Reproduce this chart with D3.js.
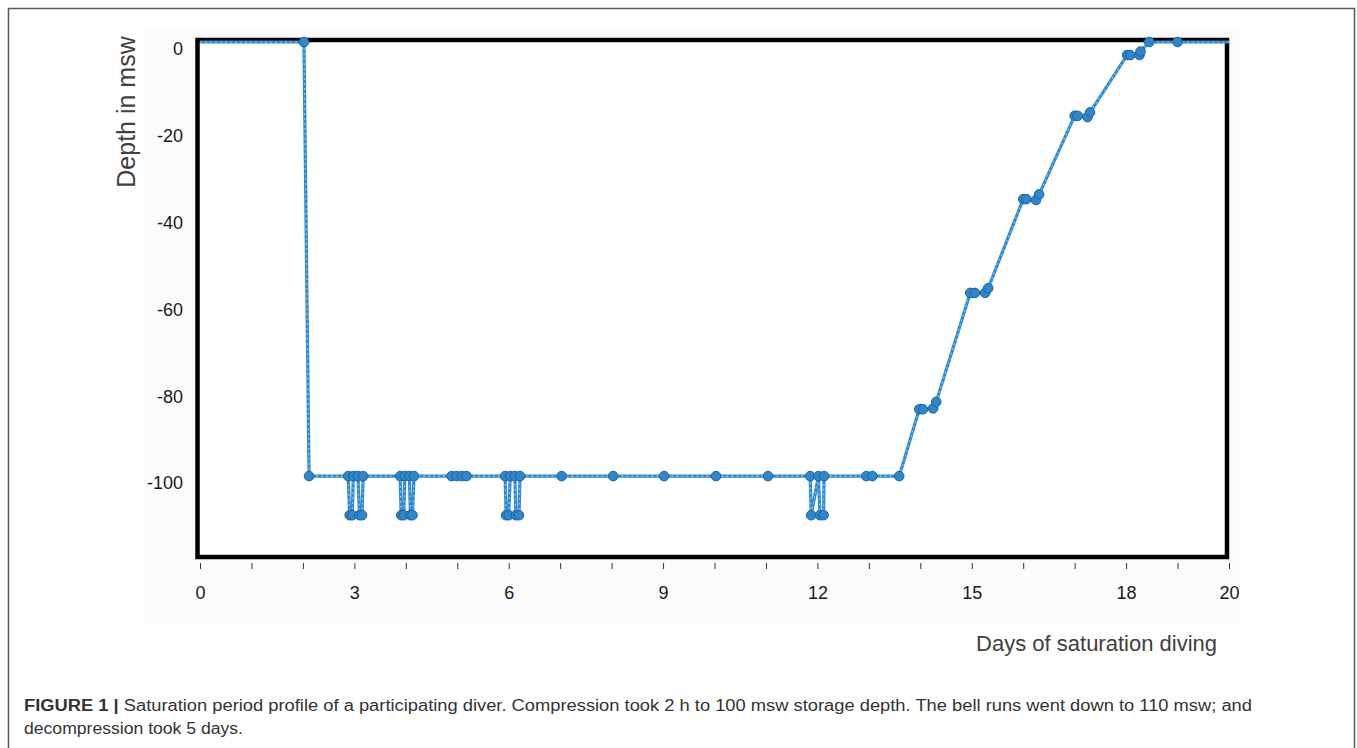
<!DOCTYPE html>
<html>
<head>
<meta charset="utf-8">
<script src="https://cdn.jsdelivr.net/npm/d3@7"></script>
<style>
  html, body { margin: 0; padding: 0; background: #ffffff; }
  svg { display: block; }
</style>
</head>
<body>
<svg id="chart" width="1357" height="748"></svg>
<script>
// ---- data ----
const days = [
  0, 2.02, 2.12,
  2.88, 2.91, 2.96, 2.98, 3.07, 3.10, 3.15, 3.17,
  3.89, 3.91, 3.96, 3.98, 4.07, 4.09, 4.13, 4.16,
  4.89, 4.99, 5.09, 5.18,
  5.93, 5.95, 6.00, 6.03, 6.12, 6.14, 6.20, 6.22,
  7.03, 8.03, 9.02, 10.03, 11.04,
  11.86, 11.88, 12.02, 12.05, 12.12, 12.13,
  12.95, 13.07, 13.59,
  13.98, 14.05, 14.25, 14.31,
  14.97, 15.06, 15.26, 15.32,
  16.00, 16.06, 16.25, 16.31,
  17.00, 17.06, 17.25, 17.30,
  18.02, 18.08, 18.26, 18.28, 18.45, 19.00, 20
];
const depths = [
  0, 0, -100,
  -100, -109, -109, -100, -100, -109, -109, -100,
  -100, -109, -109, -100, -100, -109, -109, -100,
  -100, -100, -100, -100,
  -100, -109, -109, -100, -100, -109, -109, -100,
  -100, -100, -100, -100, -100,
  -100, -109, -100, -109, -109, -100,
  -100, -100, -100,
  -84.6, -84.6, -84.4, -82.9,
  -57.8, -57.8, -57.8, -56.7,
  -36.2, -36.2, -36.4, -35.1,
  -17.0, -17.0, -17.3, -16.2,
  -3.0, -3.0, -3.0, -2.2, 0, 0, 0
];
const xTicks = d3.range(0, 21, 1);
const xTickLabels = [0, 3, 6, 9, 12, 15, 18, 20];
const yTicks = [0, -20, -40, -60, -80, -100];
const xTitle = "Days of saturation diving";
const yTitle = "Depth in msw";
const captionBold = "FIGURE 1 | ";
const captionLine1 = "Saturation period profile of a participating diver. Compression took 2 h to 100 msw storage depth. The bell runs went down to 110 msw; and";
const captionLine2 = "decompression took 5 days.";

const points = days.map((d, i) => ({ day: d, depth: depths[i] }));

// ---- layout ----
const svg = d3.select("#chart");
const x = d3.scaleLinear().domain([0, 20]).range([200, 1229]);
const y = d3.scaleLinear().domain([0, -118.4]).range([42, 556]);

// outer figure border
svg.append("rect")
  .attr("x", 8.5).attr("y", 8.5)
  .attr("width", 1346).attr("height", 760)
  .attr("fill", "none").attr("stroke", "#5a5a5a").attr("stroke-width", 1.5);

// faint background patch of the pasted chart image
svg.append("rect")
  .attr("x", 143).attr("y", 28).attr("width", 1097).attr("height", 597)
  .attr("fill", "#fbfbfb");
svg.append("rect")
  .attr("x", 197.5).attr("y", 40).attr("width", 1029.5).attr("height", 517)
  .attr("fill", "#ffffff");

// x axis
const xAxis = d3.axisBottom(x)
  .tickValues(xTicks)
  .tickSize(6)
  .tickPadding(17)
  .tickFormat(d => xTickLabels.includes(d) ? String(d) : "");
const gx = svg.append("g").attr("transform", "translate(0,563)").call(xAxis);
gx.select(".domain").remove();
gx.selectAll(".tick line").attr("stroke", "#333").attr("stroke-width", 1);
gx.selectAll(".tick text")
  .attr("font-family", "Liberation Sans, Arial, sans-serif")
  .attr("font-size", 18).attr("fill", "#1a1a1a");

// y axis
const yAxis = d3.axisLeft(y).tickValues(yTicks).tickSize(0).tickPadding(15)
  .tickFormat(d => String(d));
const gy = svg.append("g").attr("transform", "translate(198,0)").call(yAxis);
gy.select(".domain").remove();
gy.selectAll(".tick text")
  .attr("font-family", "Liberation Sans, Arial, sans-serif")
  .attr("font-size", 18).attr("fill", "#1a1a1a")
  .attr("transform", "translate(0,7)");

// plot frame
svg.append("rect")
  .attr("x", 197.5).attr("y", 40)
  .attr("width", 1029.5).attr("height", 517)
  .attr("fill", "none").attr("stroke", "#000").attr("stroke-width", 4.5);

// profile line
const line = d3.line().x(d => x(d.day)).y(d => y(d.depth));
svg.append("path").datum(points)
  .attr("d", line).attr("fill", "none")
  .attr("stroke", "#2e89d2").attr("stroke-width", 3.2)
  .attr("stroke-linejoin", "round");
svg.append("path").datum(points)
  .attr("d", line).attr("fill", "none")
  .attr("stroke", "#8fcaf2").attr("stroke-width", 1.1)
  .attr("stroke-dasharray", "2,3");

// markers
svg.append("g").selectAll("circle")
  .data(points.filter((d, i) => i > 0 && i < points.length - 1))
  .join("circle")
  .attr("cx", d => x(d.day)).attr("cy", d => y(d.depth))
  .attr("r", 4.8)
  .attr("fill", "#2f87cb").attr("stroke", "#1c65a3").attr("stroke-width", 1);

// axis titles
svg.append("text")
  .attr("x", 1217).attr("y", 651)
  .attr("text-anchor", "end")
  .attr("font-family", "Liberation Sans, Arial, sans-serif")
  .attr("font-size", 22).attr("fill", "#404040")
  .text(xTitle);
svg.append("text")
  .attr("transform", "translate(135,112) rotate(-90)")
  .attr("text-anchor", "middle")
  .attr("font-family", "Liberation Sans, Arial, sans-serif")
  .attr("font-size", 25).attr("fill", "#404040")
  .text(yTitle);

// caption
const cap1 = svg.append("text")
  .attr("x", 24).attr("y", 711)
  .attr("font-family", "Liberation Sans, Arial, sans-serif")
  .attr("font-size", 16).attr("fill", "#333")
  .attr("textLength", 1228).attr("lengthAdjust", "spacingAndGlyphs");
cap1.append("tspan").attr("font-weight", "bold").text(captionBold);
cap1.append("tspan").text(captionLine1);
svg.append("text")
  .attr("x", 24).attr("y", 734)
  .attr("font-family", "Liberation Sans, Arial, sans-serif")
  .attr("font-size", 16).attr("fill", "#333")
  .attr("textLength", 219).attr("lengthAdjust", "spacingAndGlyphs")
  .text(captionLine2);
</script>
</body>
</html>
